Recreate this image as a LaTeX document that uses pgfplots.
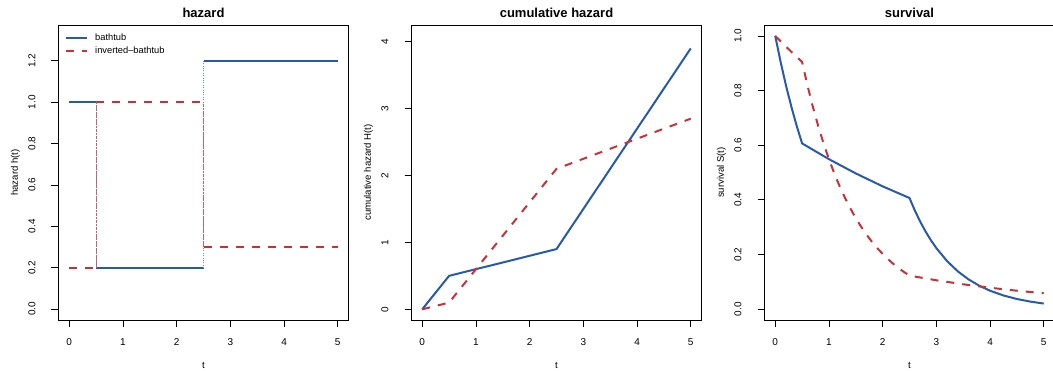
\documentclass[border=0pt]{standalone}
\usepackage{pgfplots}
\pgfplotsset{compat=1.18}
\usepackage{fontspec}
\setmainfont{Liberation Sans}
\definecolor{cblue}{RGB}{38,90,172}
\definecolor{cred}{RGB}{200,50,55}
\pgfplotsset{
  rbase/.style={
    scale only axis, width=290pt, height=295pt,
    anchor=south west,
    xmin=-0.2, xmax=5.2,
    axis line style={line width=0.8pt},
    tick style={line width=0.8pt, black},
    tick align=outside, major tick length=7pt,
    xtick={0,1,2,3,4,5},
    xtick pos=bottom, ytick pos=left,
    tick label style={font=\fontsize{10}{12}\selectfont},
    /pgf/number format/assume math mode=true,
    xticklabel style={anchor=center, yshift=-15.5pt},
    yticklabel style={rotate=90, anchor=center, yshift=19.5pt},
    xlabel={t},
    xlabel style={font=\fontsize{9.6}{11}\selectfont, at={(axis description cs:0.5,0)}, anchor=center, yshift=-45pt},
    ylabel style={font=\fontsize{9.6}{11}\selectfont, at={(axis description cs:0,0.5)}, anchor=center, rotate=0, yshift=43pt},
    title style={font=\bfseries\fontsize{13}{15}\selectfont, at={(axis description cs:0.5,1)}, anchor=center, yshift=6pt},
    every axis plot/.append style={line width=2pt},
  },
  bt/.style={cblue, solid, line width=2pt},
  ibt/.style={cred, line width=2pt, dash pattern=on 8pt off 8pt},
}
\begin{document}
\begin{tikzpicture}
\useasboundingbox (0pt,0pt) rectangle (1053pt,370pt);
% panel 1
\begin{axis}[rbase, at={(58.5pt,50pt)},
  ymin=-0.053, ymax=1.373,
  ytick={0,0.2,0.4,0.6,0.8,1.0,1.2},
  yticklabel style={/pgf/number format/.cd, fixed, fixed zerofill, precision=1},
  title={hazard}, ylabel={hazard h(t)},
  legend style={at={(axis description cs:0.019,0.98)}, anchor=north west, draw=none, fill=none,
    font=\fontsize{9.3}{11}\selectfont, row sep=0.5pt, inner sep=1pt},
  legend cell align=left,
  legend image code/.code={\draw[#1] (0pt,0pt) -- (21pt,0pt); \path (26pt,0pt);},
]
\addplot[bt] coordinates {(0,1.0) (0.5,1.0)};
\addlegendentry{bathtub}
\addplot[ibt] coordinates {(0,0.2) (0.5,0.2)};
\addlegendentry{inverted--bathtub}
\addplot[bt, forget plot] coordinates {(0.5,0.2) (2.5,0.2)};
\addplot[bt, forget plot] coordinates {(2.5,1.2) (5,1.2)};
\addplot[ibt, forget plot] coordinates {(0.5,1.0) (2.5,1.0)};
\addplot[ibt, forget plot] coordinates {(2.5,0.3) (5,0.3)};
\addplot[cblue!70, line width=0.4pt, dotted, forget plot] coordinates {(0.5,1.0) (0.5,0.2)};
\addplot[cred!80, line width=0.4pt, densely dotted, forget plot] coordinates {(0.5,0.2) (0.5,1.0)};
\addplot[cblue!70, line width=0.4pt, dotted, forget plot] coordinates {(2.5,0.2) (2.5,1.2)};
\addplot[cred!80, line width=0.4pt, densely dotted, forget plot] coordinates {(2.5,1.0) (2.5,0.3)};
\end{axis}
% panel 2
\begin{axis}[rbase, at={(411.5pt,50pt)},
  ymin=-0.16, ymax=4.25,
  ytick={0,1,2,3,4},
  title={cumulative hazard}, ylabel={cumulative hazard H(t)},
]
\addplot[bt] coordinates {(0,0) (0.5,0.5) (2.5,0.9) (5,3.9)};
\addplot[ibt] coordinates {(0,0) (0.5,0.1) (2.5,2.1) (5,2.85)};
\end{axis}
% panel 3
\begin{axis}[rbase, at={(764.5pt,50pt)},
  ymin=-0.04, ymax=1.04,
  ytick={0,0.2,0.4,0.6,0.8,1.0},
  yticklabel style={/pgf/number format/.cd, fixed, fixed zerofill, precision=1},
  title={survival}, ylabel={survival S(t)},
]
\addplot[bt] coordinates {
(0,1) (0.1,0.9048) (0.2,0.8187) (0.3,0.7408) (0.4,0.6703) (0.5,0.6065)
(1.0,0.5488) (1.5,0.4966) (2.0,0.4493) (2.5,0.4066)
(2.6,0.3606) (2.7,0.3198) (2.8,0.2837) (2.9,0.2516) (3.0,0.2231)
(3.2,0.1755) (3.4,0.1381) (3.6,0.1086) (3.8,0.0854) (4.0,0.0672)
(4.25,0.0498) (4.5,0.0369) (4.75,0.0273) (5.0,0.0202)};
\addplot[ibt] coordinates {
(0,1) (0.25,0.9512) (0.5,0.9048)
(0.6,0.8187) (0.7,0.7408) (0.8,0.6703) (0.9,0.6065) (1.0,0.5488)
(1.1,0.4966) (1.2,0.4493) (1.3,0.4066) (1.4,0.3679) (1.5,0.3329)
(1.6,0.3012) (1.7,0.2725) (1.8,0.2466) (1.9,0.2231) (2.0,0.2019)
(2.1,0.1827) (2.2,0.1653) (2.3,0.1496) (2.4,0.1353) (2.5,0.1225)
(3.0,0.1054) (3.5,0.0907) (4.0,0.0781) (4.5,0.0672) (5.0,0.0578)};
\end{axis}
\end{tikzpicture}
\end{document}
